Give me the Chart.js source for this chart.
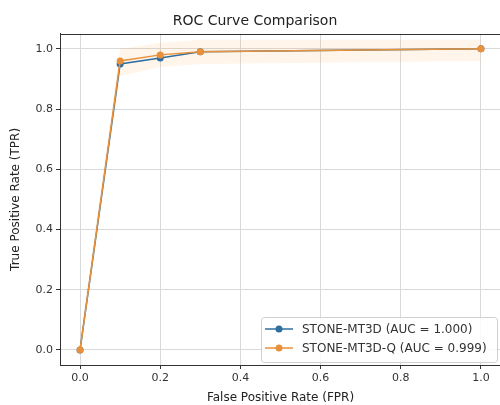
<!DOCTYPE html>
<html>
<head>
<meta charset="utf-8">
<script src="https://cdn.jsdelivr.net/npm/chart.js@4/dist/chart.umd.min.js"></script>
<style>
  html, body { margin: 0; padding: 0; background: #fff; overflow: hidden; }
  #wrap { width: 505px; height: 405px; }
</style>
</head>
<body>
<div id="wrap"><canvas id="roc" width="505" height="405"></canvas></div>
<script>
// ROC points
const fpr = [0, 0.1, 0.2, 0.3, 1.0];
const tprBase = [0, 0.95, 0.97, 0.99, 1.0];
const tprQuant = [0, 0.96, 0.98, 0.99, 1.0];
// faint shaded band around the quantized curve
const bandHigh = [0.04, 1.0, 1.02, 1.03, 1.03];
const bandLow = [0, 0.91, 0.94, 0.95, 0.96];
const xTicks = [0, 0.2, 0.4, 0.6, 0.8, 1.0];
const yTicks = [0, 0.2, 0.4, 0.6, 0.8, 1.0];
const seriesLabels = ['STONE-MT3D (AUC = 1.000)', 'STONE-MT3D-Q (AUC = 0.999)'];

const BLUE = '#2f6f9f';
const ORANGE = '#e8913a';
const FONT = "'DejaVu Sans', sans-serif";

const pts = ys => fpr.map((x, i) => ({ x, y: ys[i] }));

/* top/right spines and the in-plot legend, matplotlib style */
const frameAndLegend = {
  id: 'frameAndLegend',
  afterDraw(chart) {
    const { ctx, chartArea: a } = chart;
    ctx.save();
    ctx.strokeStyle = '#333';
    ctx.lineWidth = 1;
    ctx.beginPath();
    ctx.moveTo(a.left, Math.round(a.top) + 0.5);
    ctx.lineTo(a.right, Math.round(a.top) + 0.5);
    ctx.moveTo(Math.round(a.right) - 0.5, a.top);
    ctx.lineTo(Math.round(a.right) - 0.5, a.bottom);
    ctx.stroke();

    // legend box at the lower right
    const bx = 261, by = 317, bw = 236, bh = 45;
    ctx.fillStyle = 'rgba(255,255,255,0.85)';
    ctx.strokeStyle = '#d0d0d0';
    ctx.beginPath();
    ctx.roundRect(bx + 0.5, by + 0.5, bw, bh, 3);
    ctx.fill();
    ctx.stroke();

    const colors = [BLUE, ORANGE];
    ctx.font = '12px ' + FONT;
    ctx.textBaseline = 'middle';
    seriesLabels.forEach((label, i) => {
      const y = by + 12 + i * 19;
      ctx.strokeStyle = colors[i];
      ctx.lineWidth = 1.5;
      ctx.beginPath();
      ctx.moveTo(bx + 4, y);
      ctx.lineTo(bx + 32, y);
      ctx.stroke();
      ctx.fillStyle = colors[i];
      ctx.beginPath();
      ctx.arc(bx + 18, y, 3.5, 0, Math.PI * 2);
      ctx.fill();
      ctx.fillStyle = '#333';
      ctx.fillText(label, bx + 41, y + 1);
    });
    ctx.restore();
  }
};

new Chart(document.getElementById('roc'), {
  type: 'line',
  data: {
    datasets: [
      {
        label: seriesLabels[1],
        data: pts(tprQuant),
        borderColor: ORANGE,
        backgroundColor: ORANGE,
        borderWidth: 1.5,
        pointRadius: 3.5,
        pointBorderWidth: 0,
        order: 0,
      },
      {
        label: seriesLabels[0],
        data: pts(tprBase),
        borderColor: BLUE,
        backgroundColor: BLUE,
        borderWidth: 1.5,
        pointRadius: 3.5,
        pointBorderWidth: 0,
        order: 1,
      },
      {
        label: 'band',
        data: pts(bandHigh),
        borderWidth: 0,
        pointRadius: 0,
        backgroundColor: 'rgba(255,160,60,0.10)',
        fill: '+1',
        order: 2,
      },
      {
        label: 'bandLow',
        data: pts(bandLow),
        borderWidth: 0,
        pointRadius: 0,
        fill: false,
        order: 3,
      },
    ],
  },
  options: {
    responsive: false,
    animation: false,
    layout: { padding: { top: 4, right: 0, left: 5, bottom: 0 } },
    plugins: {
      legend: { display: false },
      tooltip: { enabled: false },
      title: {
        display: true,
        text: 'ROC Curve Comparison',
        color: '#222',
        font: { family: FONT, size: 14, weight: 'normal' },
        padding: { top: 9, bottom: 4 },
      },
    },
    scales: {
      x: {
        type: 'linear',
        min: -0.05,
        max: 1.05,
        afterBuildTicks: s => { s.ticks = xTicks.map(v => ({ value: v })); },
        afterFit: s => { s.height = 40; },
        grid: { color: '#d9d9d9', tickColor: '#333', tickLength: 4, lineWidth: 1 },
        border: { display: true, color: '#333', width: 1 },
        ticks: {
          color: '#333',
          font: { family: FONT, size: 11 },
          padding: 3,
          callback: v => v.toFixed(1),
        },
        title: {
          display: true,
          text: 'False Positive Rate (FPR)',
          color: '#222',
          font: { family: FONT, size: 12 },
          padding: { top: 1, bottom: 0 },
        },
      },
      y: {
        min: -0.05,
        max: 1.05,
        afterBuildTicks: s => { s.ticks = yTicks.map(v => ({ value: v })); },
        afterFit: s => { s.width = 55; },
        grid: { color: '#d9d9d9', tickColor: '#333', tickLength: 4, lineWidth: 1 },
        border: { display: true, color: '#333', width: 1 },
        ticks: {
          color: '#333',
          font: { family: FONT, size: 11 },
          padding: 3,
          callback: v => v.toFixed(1),
        },
        title: {
          display: true,
          text: 'True Positive Rate (TPR)',
          color: '#222',
          font: { family: FONT, size: 12 },
          padding: { top: 4, bottom: 0 },
        },
      },
    },
  },
  plugins: [frameAndLegend],
});
</script>
</body>
</html>
